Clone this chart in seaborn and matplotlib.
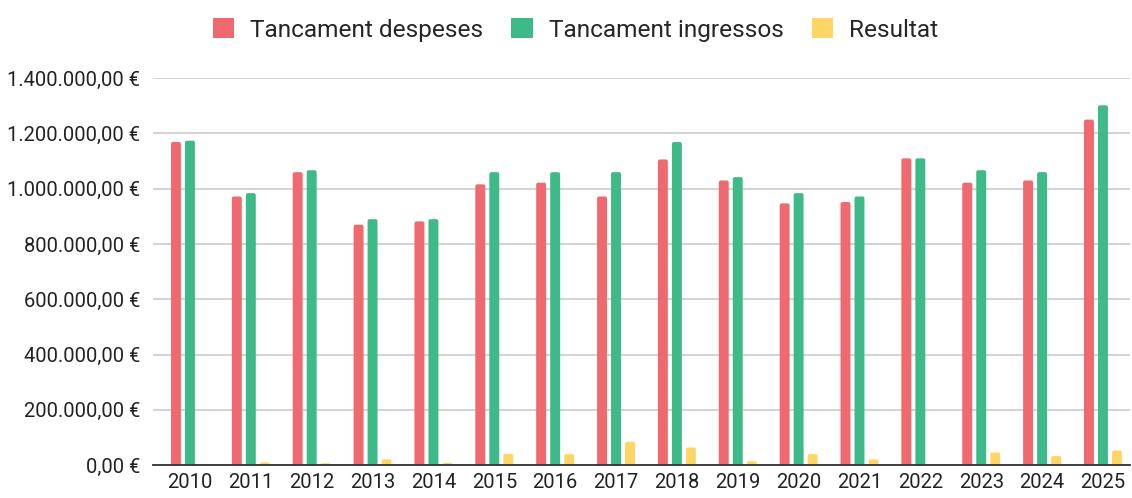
import numpy as np
import pandas as pd
import matplotlib
matplotlib.use('Agg')
import matplotlib.pyplot as plt
from matplotlib.patches import FancyBboxPatch, Patch
from matplotlib.ticker import FuncFormatter
import seaborn as sns

years = [str(y) for y in range(2010, 2026)]
despeses = [1169000, 972000, 1060000, 870000, 882000, 1016000, 1022000, 972000,
            1106000, 1030000, 947000, 952000, 1110000, 1022000, 1030000, 1250000]
ingressos = [1174000, 984000, 1067000, 890000, 890000, 1060000, 1060000, 1060000,
             1169000, 1042000, 984000, 972000, 1110000, 1067000, 1060000, 1302000]
resultat = [0, 10000, 7000, 21000, 8000, 41000, 40000, 85000,
            64000, 14000, 40000, 21000, 0, 46000, 33000, 53000]
series = ['Tancament despeses', 'Tancament ingressos', 'Resultat']
colors = ['#f0696e', '#3dba87', '#ffd666']

df = pd.DataFrame({
    'year': years * 3,
    'serie': [series[0]] * 16 + [series[1]] * 16 + [series[2]] * 16,
    'value': despeses + ingressos + resultat,
})

sns.set_style('white')
plt.rcParams['font.family'] = ['Roboto', 'DejaVu Sans']

fig = plt.figure(figsize=(11.32, 4.98), dpi=100)
ax = fig.add_axes([0.135, 0.066, 0.863, 0.777])

sns.barplot(data=df, x='year', y='value', hue='serie', palette=colors,
            width=0.69, gap=0.29, errorbar=None, ax=ax, saturation=1, legend=False)

ax.set_ylim(0, 1400000)
ax.set_xlim(-0.61, 15.44)
ax.set_yticks(np.arange(0, 1400001, 200000))

# rounded tops on the bars (bottom corners pushed below the axis and clipped)
rx = 0.033
ry = 7200
for p in list(ax.patches):
    x, y = p.get_x(), p.get_y()
    w, h = p.get_width(), p.get_height()
    fc = p.get_facecolor()
    p.set_visible(False)
    if h <= 0:
        continue
    rr = min(rx, (h + ry) / ry * rx / 2)
    fb = FancyBboxPatch((x, -ry), w, h + ry, boxstyle=f'round,pad=0,rounding_size={rr}',
                        mutation_aspect=ry / rx, facecolor=fc, edgecolor='none', zorder=2)
    ax.add_patch(fb)

def eur(v, pos):
    s = f'{v:,.2f}'.replace(',', 'X').replace('.', ',').replace('X', '.')
    return s + ' €'

ax.yaxis.set_major_formatter(FuncFormatter(eur))
ax.grid(axis='y', color='#cccccc', linewidth=1.2)
ax.set_axisbelow(True)
for side in ['top', 'right', 'left']:
    ax.spines[side].set_visible(False)
ax.spines['bottom'].set_color('#333333')
ax.spines['bottom'].set_linewidth(1.3)
ax.spines['bottom'].set_zorder(3)
ax.tick_params(axis='both', length=0, labelsize=14.5, colors='#222222')
ax.tick_params(axis='y', pad=9)
ax.tick_params(axis='x', pad=6)
ax.set_xlabel('')
ax.set_ylabel('')

handles = [Patch(facecolor=c, edgecolor='none') for c in colors]
ax.legend(handles, series, loc='center', bbox_to_anchor=(575.5 / 1132, 0.94),
          bbox_transform=fig.transFigure, ncol=3, frameon=False, fontsize=17.6,
          handlelength=0.86, handleheight=0.86, handletextpad=0.66, columnspacing=1.15,
          borderaxespad=0, borderpad=0)

fig.savefig('out.png', dpi=100)
